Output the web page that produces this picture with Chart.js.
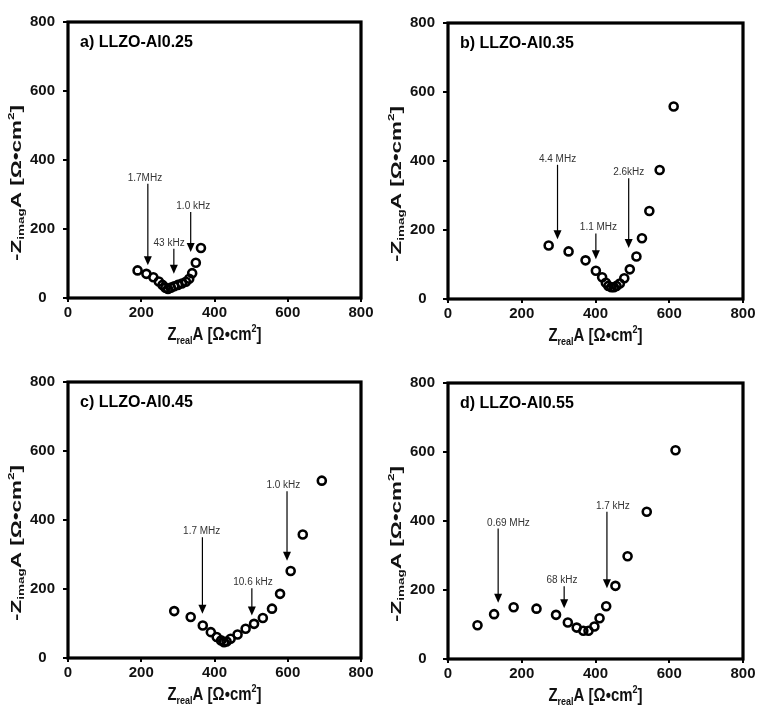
<!DOCTYPE html>
<html>
<head>
<meta charset="utf-8">
<script src="https://cdn.jsdelivr.net/npm/chart.js@4.4.1/dist/chart.umd.min.js"></script>
<style>
  body { margin: 0; background: #fff; }
  #fig { position: relative; width: 759px; height: 710px; background: #fff; }
  #fig canvas { position: absolute; }
</style>
</head>
<body>
<div id="fig">
  <canvas id="pa" width="380" height="355" style="left:0;top:0"></canvas>
  <canvas id="pb" width="379" height="355" style="left:380px;top:0"></canvas>
  <canvas id="pc" width="380" height="350" style="left:0;top:360px"></canvas>
  <canvas id="pd" width="379" height="350" style="left:380px;top:360px"></canvas>
</div>
<script>
const axisTicks = [0, 200, 400, 600, 800];

// a) LLZO-Al0.25
const realA = [190, 214, 233, 248, 258, 266, 273, 281, 290, 300, 311, 322, 331, 339, 349, 363];
const imagA = [80, 70, 60, 48, 38, 30, 26, 30, 34, 38, 42, 47, 56, 72, 102, 145];
const notesA = [
  { text: '1.7MHz', x: 218, tx: 210, from: 331, to: 95 },
  { text: '43 kHz', x: 289, tx: 276, from: 143, to: 70 },
  { text: '1.0 kHz', x: 335, tx: 342, from: 249, to: 133 }
];

// b) LLZO-Al0.35
const realB = [273, 327, 373, 401, 418, 428, 435, 443, 450, 457, 466, 478, 493, 511, 526, 546, 574, 612];
const imagB = [155, 138, 112, 82, 63, 47, 38, 34, 34, 38, 45, 60, 86, 123, 176, 255, 374, 558];
const notesB = [
  { text: '4.4 MHz', x: 297, tx: 297, from: 389, to: 173 },
  { text: '1.1 MHz', x: 401, tx: 408, from: 190, to: 115 },
  { text: '2.6kHz', x: 490, tx: 490, from: 350, to: 148 }
];

// c) LLZO-Al0.45
const realC = [290, 335, 368, 390, 406, 418, 426, 433, 444, 463, 485, 508, 532, 557, 579, 608, 641, 693];
const imagC = [136, 119, 94, 75, 61, 51, 46, 48, 56, 68, 85, 99, 116, 143, 186, 252, 358, 514];
const notesC = [
  { text: '1.7 MHz', x: 367, tx: 365, from: 350, to: 128 },
  { text: '10.6 kHz', x: 502, tx: 505, from: 202, to: 123 },
  { text: '1.0 kHz', x: 598, tx: 588, from: 483, to: 282 }
];

// d) LLZO-Al0.55
const realD = [80, 125, 178, 240, 293, 325, 349, 367, 381, 397, 411, 429, 454, 487, 539, 617];
const imagD = [98, 130, 150, 146, 128, 106, 91, 82, 82, 94, 118, 153, 212, 298, 427, 605];
const notesD = [
  { text: '0.69 MHz', x: 136, tx: 164, from: 378, to: 163 },
  { text: '68 kHz', x: 315, tx: 309, from: 211, to: 147 },
  { text: '1.7 kHz', x: 431, tx: 447, from: 427, to: 205 }
];

const FONT = '"Liberation Sans", Arial, sans-serif';

function drawRich(ctx, parts, size) {
  const small = Math.round(size * 0.62);
  const fontOf = p => `bold ${p[1] ? small : size}px ${FONT}`;
  let w = 0;
  parts.forEach(p => { ctx.font = fontOf(p); w += ctx.measureText(p[0]).width; });
  let x = -w / 2;
  ctx.textAlign = 'left';
  ctx.textBaseline = 'middle';
  parts.forEach(p => {
    ctx.font = fontOf(p);
    const dy = p[1] === 'sub' ? size * 0.32 : p[1] === 'sup' ? -size * 0.36 : 0;
    ctx.fillText(p[0], x, dy);
    x += ctx.measureText(p[0]).width;
  });
}

const figurePlugin = {
  id: 'figure',
  afterDraw(chart, args, opts) {
    const ctx = chart.ctx;
    const area = chart.chartArea;
    const xs = chart.scales.x, ys = chart.scales.y;
    ctx.save();

    // frame
    ctx.strokeStyle = '#000';
    ctx.lineWidth = 3.2;
    ctx.strokeRect(area.left, area.top, area.right - area.left, area.bottom - area.top);

    // panel label
    ctx.fillStyle = '#000';
    ctx.font = `bold 16px ${FONT}`;
    ctx.textAlign = 'left';
    ctx.textBaseline = 'middle';
    ctx.fillText(opts.label, area.left + 12, area.top + 21);

    // arrows with frequency labels
    opts.notes.forEach(n => {
      const px = xs.getPixelForValue(n.x);
      const p0 = ys.getPixelForValue(n.from);
      const p1 = ys.getPixelForValue(n.to);
      ctx.strokeStyle = '#000';
      ctx.lineWidth = 1.2;
      ctx.beginPath();
      ctx.moveTo(px, p0);
      ctx.lineTo(px, p1 - 8);
      ctx.stroke();
      ctx.beginPath();
      ctx.moveTo(px - 4, p1 - 9);
      ctx.lineTo(px + 4, p1 - 9);
      ctx.lineTo(px, p1);
      ctx.closePath();
      ctx.fill();
      ctx.font = `10px ${FONT}`;
      ctx.fillStyle = '#333';
      ctx.textAlign = 'center';
      ctx.textBaseline = 'alphabetic';
      ctx.fillText(n.text, xs.getPixelForValue(n.tx), p0 - 3);
      ctx.fillStyle = '#000';
    });

    // axis titles
    ctx.fillStyle = '#111';
    ctx.save();
    ctx.translate((area.left + area.right) / 2, area.bottom + 37);
    ctx.scale(1, 1.2);
    drawRich(ctx, [['Z'], ['real', 'sub'], ['A [Ω•cm'], ['2', 'sup'], [']']], 15);
    ctx.restore();

    ctx.save();
    ctx.translate(area.left - 51, area.top + 161);
    ctx.rotate(-Math.PI / 2);
    ctx.scale(1.5, 1);
    drawRich(ctx, [['-Z'], ['imag', 'sub'], ['A [Ω•cm'], ['2', 'sup'], [']']], 15);
    ctx.restore();

    ctx.restore();
  }
};

function makePanel(id, label, xs, ys, notes, pad) {
  const points = xs.map((v, i) => ({ x: v, y: ys[i] }));
  return new Chart(document.getElementById(id), {
    type: 'scatter',
    data: {
      datasets: [{
        data: points,
        pointStyle: 'circle',
        pointRadius: 4,
        pointBorderWidth: 2.6,
        borderColor: '#000',
        backgroundColor: 'rgba(0,0,0,0)',
        showLine: false
      }]
    },
    options: {
      responsive: false,
      animation: false,
      layout: { padding: { top: pad.top, right: pad.right, left: 0, bottom: 0 } },
      plugins: {
        legend: { display: false },
        tooltip: { enabled: false },
        figure: { label, notes }
      },
      scales: {
        x: {
          type: 'linear',
          min: 0,
          max: 800,
          afterBuildTicks: s => { s.ticks = axisTicks.map(v => ({ value: v })); },
          afterFit: s => { s.height = pad.bottom; },
          border: { display: false },
          grid: { drawOnChartArea: false, color: '#000', lineWidth: 2, tickLength: 4 },
          ticks: { color: '#111', padding: 2, maxRotation: 0, font: { family: FONT, size: 15, weight: 'bold' } }
        },
        y: {
          type: 'linear',
          min: 0,
          max: 800,
          afterBuildTicks: s => { s.ticks = axisTicks.map(v => ({ value: v })); },
          afterFit: s => { s.width = 68; },
          border: { display: false },
          grid: { drawOnChartArea: false, color: '#000', lineWidth: 2, tickLength: 5 },
          ticks: { color: '#111', padding: 8, crossAlign: 'center', font: { family: FONT, size: 15, weight: 'bold' } }
        }
      }
    },
    plugins: [figurePlugin]
  });
}

makePanel('pa', 'a) LLZO-Al0.25', realA, imagA, notesA, { top: 22, right: 19, bottom: 57 });
makePanel('pb', 'b) LLZO-Al0.35', realB, imagB, notesB, { top: 23, right: 16, bottom: 56 });
makePanel('pc', 'c) LLZO-Al0.45', realC, imagC, notesC, { top: 22, right: 19, bottom: 52 });
makePanel('pd', 'd) LLZO-Al0.55', realD, imagD, notesD, { top: 23, right: 16, bottom: 51 });
</script>
</body>
</html>
